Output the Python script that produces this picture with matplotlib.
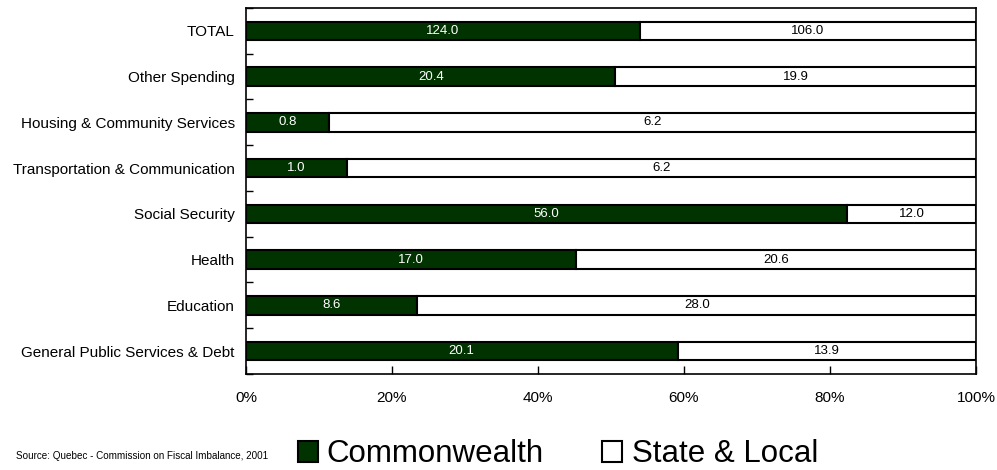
import numpy as np
import matplotlib.pyplot as plt
from matplotlib.patches import Rectangle

plt.rcParams['font.family'] = ['Liberation Sans', 'DejaVu Sans']

categories = ["General Public Services & Debt", "Education", "Health", "Social Security",
              "Transportation & Communication", "Housing & Community Services",
              "Other Spending", "TOTAL"]
commonwealth = [20.1, 8.6, 17.0, 56.0, 1.0, 0.8, 20.4, 124.0]
state_local = [13.9, 28.0, 20.6, 12.0, 6.2, 6.2, 19.9, 106.0]

cw = np.array(commonwealth)
sl = np.array(state_local)
total = cw + sl
cw_pct = cw / total * 100
sl_pct = sl / total * 100

green = "#003300"

fig = plt.figure(figsize=(9.97, 4.7), dpi=100)
ax = fig.add_axes([0.2467, 0.2043, 0.7322, 0.7787])

y = np.arange(len(categories))
h = 0.4
ax.barh(y, cw_pct, height=h, color=green, edgecolor="black", linewidth=1.5)
ax.barh(y, sl_pct, left=cw_pct, height=h, color="white", edgecolor="black", linewidth=1.5)

for i in range(len(categories)):
    ax.text(cw_pct[i] / 2, y[i], f"{cw[i]:.1f}", ha="center", va="center",
            color="white", fontsize=9.5)
    ax.text(cw_pct[i] + sl_pct[i] / 2, y[i], f"{sl[i]:.1f}", ha="center", va="center",
            color="black", fontsize=9.5)

ax.set_xlim(0, 100)
ax.set_ylim(-0.5, len(categories) - 0.5)
ax.set_xticks(np.arange(0, 101, 20))
ax.set_xticklabels([f"{v}%" for v in range(0, 101, 20)], fontsize=11)
ax.set_yticks(y)
ax.set_yticklabels(categories, fontsize=11)
ax.set_yticks(np.arange(-0.5, len(categories), 1), minor=True)
ax.tick_params(axis="y", which="major", length=0, pad=8)
ax.tick_params(axis="y", which="minor", length=5, direction="in", width=1)
ax.tick_params(axis="x", length=6, direction="in", width=1, pad=12)
for s in ax.spines.values():
    s.set_linewidth(1.2)

fig.text(0.016, 0.024, "Source: Quebec - Commission on Fiscal Imbalance, 2001", fontsize=7.1,
         va="baseline")

# legend drawn by hand: square swatch + large label
W, H = 997, 470
base = 462
for x0, color, label, tx in [(298, green, "Commonwealth", 326),
                             (602, "white", "State & Local", 632)]:
    fig.patches.append(Rectangle((x0 / W, 1 - base / H), 20 / W, 21 / H,
                                 transform=fig.transFigure, facecolor=color,
                                 edgecolor="black", linewidth=1.5))
    fig.text(tx / W, 1 - base / H, label, fontsize=22.5, va="baseline")

fig.savefig("out.png", dpi=100)
